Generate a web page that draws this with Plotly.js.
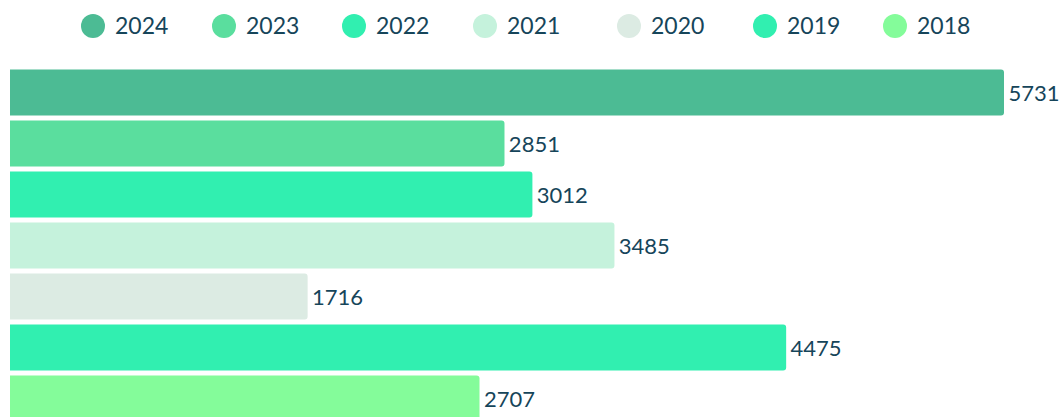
<!DOCTYPE html>
<html>
<head>
<meta charset="utf-8">
<script src="https://cdn.plot.ly/plotly-3.0.1.min.js"></script>
<style>html,body{margin:0;padding:0;background:#fff;}#chart{width:1060px;height:417px;}</style>
</head>
<body>
<div id="chart"></div>
<script>
// Data
const years = ['2024', '2023', '2022', '2021', '2020', '2019', '2018'];
const values = [5731, 2851, 3012, 3485, 1716, 4475, 2707];
const colors = ['#4cbb94', '#5ade9e', '#31efb0', '#c5f2dc', '#dcebe3', '#31efb0', '#84fc9a'];

// Legend layout (pixel positions of legend circle centers)
const legendX = [93, 224, 354, 485, 629, 765, 895];
const legendY = 26;

const W = 1060, H = 417;
const textColor = '#16455a';
const font = 'Lato, "Open Sans", sans-serif';

const bars = {
  type: 'bar',
  orientation: 'h',
  y: years,
  x: values,
  marker: { color: colors, cornerradius: 3 },
  text: values.map(v => '\u200A' + v),
  textposition: 'outside',
  textfont: { family: font, size: 22, color: textColor },
  constraintext: 'none',
  cliponaxis: false,
  hoverinfo: 'skip',
  xaxis: 'x',
  yaxis: 'y',
  showlegend: false
};

const legendMarkers = {
  type: 'scatter',
  mode: 'markers',
  x: legendX,
  y: legendX.map(() => legendY),
  marker: { size: 24, color: colors, line: { width: 0 } },
  xaxis: 'x2',
  yaxis: 'y2',
  cliponaxis: false,
  hoverinfo: 'skip',
  showlegend: false
};

const legendText = {
  type: 'scatter',
  mode: 'text',
  x: legendX.map(v => v + 22),
  y: legendX.map(() => legendY + 2),
  text: years,
  textposition: 'middle right',
  textfont: { family: font, size: 23, color: textColor },
  xaxis: 'x2',
  yaxis: 'y2',
  cliponaxis: false,
  hoverinfo: 'skip',
  showlegend: false
};

const plotTop = 67;
const layout = {
  width: W,
  height: H,
  margin: { l: 0, r: 0, t: 0, b: 0, pad: 0 },
  paper_bgcolor: '#ffffff',
  plot_bgcolor: 'rgba(0,0,0,0)',
  bargap: 0.1,
  showlegend: false,
  xaxis: {
    domain: [10 / W, 1004 / W],
    range: [0, 5731],
    visible: false,
    fixedrange: true
  },
  yaxis: {
    domain: [0, 1 - plotTop / H],
    type: 'category',
    categoryorder: 'array',
    categoryarray: years,
    range: [(H - plotTop) / 51 - 0.5, -0.5],
    visible: false,
    fixedrange: true
  },
  xaxis2: {
    domain: [0, 1],
    range: [0, W],
    anchor: 'y2',
    visible: false,
    fixedrange: true
  },
  yaxis2: {
    domain: [1 - plotTop / H, 1],
    range: [plotTop, 0],
    anchor: 'x2',
    visible: false,
    fixedrange: true
  }
};

Plotly.newPlot('chart', [bars, legendMarkers, legendText], layout, { displayModeBar: false, staticPlot: true });
</script>
</body>
</html>
